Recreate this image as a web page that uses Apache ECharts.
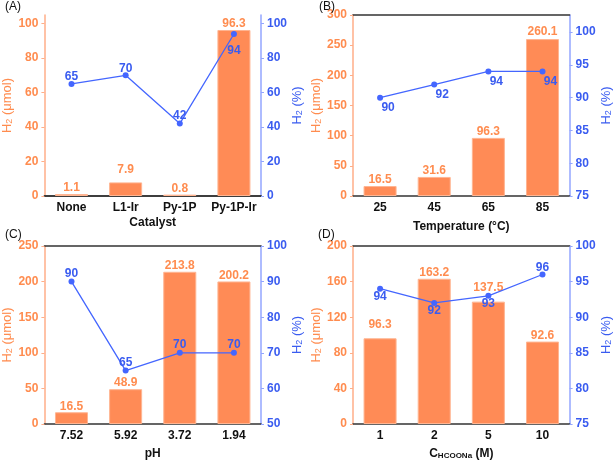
<!DOCTYPE html>
<html><head><meta charset="utf-8">
<script src="https://cdn.jsdelivr.net/npm/echarts@6/dist/echarts.min.js"></script>
<style>html,body{margin:0;padding:0;background:#fff}#c{width:614px;height:461px}</style>
</head><body><div id="c"></div>
<script>
// ---- data ----
const catA = ['None', 'L1-Ir', 'Py-1P', 'Py-1P-Ir'];
const barA = [1.1, 7.9, 0.8, 96.3];
const lineA = [65, 70, 42, 94];
const catB = ['25', '45', '65', '85'];
const barB = [16.5, 31.6, 96.3, 260.1];
const lineB = [90, 92, 94, 94];
const catC = ['7.52', '5.92', '3.72', '1.94'];
const barC = [16.5, 48.9, 213.8, 200.2];
const lineC = [90, 65, 70, 70];
const catD = ['1', '2', '5', '10'];
const barD = [96.3, 163.2, 137.5, 92.6];
const lineD = [94, 92, 93, 96];
// tick labels
const leftTicksA = [0, 20, 40, 60, 80, 100];
const rightTicksA = [0, 20, 40, 60, 80, 100];
const leftTicksB = [0, 50, 100, 150, 200, 250, 300];
const rightTicksB = [75, 80, 85, 90, 95, 100];
const leftTicksC = [0, 50, 100, 150, 200, 250];
const rightTicksC = [50, 60, 70, 80, 90, 100];
const leftTicksD = [0, 40, 80, 120, 160, 200];
const rightTicksD = [75, 80, 85, 90, 95, 100];

// ---- styles / layout (not data) ----
const offA = [[0, -7], [0, -7], [0, -8], [0, 17]];
const offB = [[8, 10], [8, 10], [8, 10], [8, 10]];
const offC = [[0, -8], [0, -8], [0, -8], [0, -8]];
const offD = [[0, 8], [0, 8], [0, 8], [0, -7]];
const barLblA = [0, -7, 0, 0];
const barLblB = [0, 0, 0, -1];
const barLblC = [0, 0, 0, 0];
const barLblD = [-8, 0, -8, 0];

const FONT = 'Liberation Sans, Arial, sans-serif';
const ORANGE = '#FF8C4F', ORANGE_AX = '#FFAE88', BAR = '#FF8B56', BAR_BORDER = '#FFB592';
const BLUE = '#4466FF', BLUE_TXT = '#3A5CF0', BLUE_AX = '#93A6FF';

const panels = [
  {cats: catA, bars: barA, line: lineA, off: offA, bl: barLblA, lt: leftTicksA, rt: rightTicksA, lmin: 0, lmax: 105, rmin: 0, rmax: 105,
   grid: {left: 38, top: 15, width: 223, height: 181}, xname: {t: 'Catalyst'}, xgap: 21, title: '(A)', tpos: [5, 1]},
  {cats: catB, bars: barB, line: lineB, off: offB, bl: barLblB, lt: leftTicksB, rt: rightTicksB, lmin: 0, lmax: 300, rmin: 75, rmax: 102.6,
   grid: {left: 353, top: 15, width: 222, height: 181}, xname: {t: 'Temperature (°C)'}, xgap: 25, title: '(B)', tpos: [319, 1]},
  {cats: catC, bars: barC, line: lineC, off: offC, bl: barLblC, lt: leftTicksC, rt: rightTicksC, lmin: 0, lmax: 250, rmin: 50, rmax: 100,
   grid: {left: 38, top: 246, width: 223, height: 180}, xname: {t: 'pH'}, xgap: 24, title: '(C)', tpos: [5, 229]},
  {cats: catD, bars: barD, line: lineD, off: offD, bl: barLblD, lt: leftTicksD, rt: rightTicksD, lmin: 0, lmax: 200, rmin: 75, rmax: 100,
   grid: {left: 353, top: 246, width: 222, height: 180}, xname: {rich: true}, xgap: 23, title: '(D)', tpos: [318, 229]}
];

const option = {animation: false, textStyle: {fontFamily: FONT}, grid: [], xAxis: [], yAxis: [], series: [], title: []};

panels.forEach((p, i) => {
  option.grid.push(p.grid);
  option.title.push({text: p.title, left: p.tpos[0], top: p.tpos[1], padding: 0,
    textStyle: {fontSize: 12, fontWeight: 'normal', color: '#111', fontFamily: FONT}});
  const xName = p.xname.rich ? '{b|C}{s|HCOONa}{b| (M)}' : p.xname.t;
  option.xAxis.push({
    type: 'category', gridIndex: i, data: p.cats, position: 'bottom',
    axisLine: {lineStyle: {color: '#333', width: 1.5}},
    axisTick: {alignWithLabel: true, length: 4, lineStyle: {color: '#333'}},
    axisLabel: {interval: 0, color: '#111', fontWeight: 'bold', fontSize: 12, margin: 6, fontFamily: FONT},
    name: xName, nameLocation: 'middle', nameGap: p.xgap,
    nameTextStyle: {color: '#111', fontWeight: 'bold', fontSize: 12, fontFamily: FONT,
      rich: {b: {fontWeight: 'bold', fontSize: 12, color: '#111', fontFamily: FONT},
             s: {fontWeight: 'bold', fontSize: 8, color: '#111', verticalAlign: 'bottom', padding: [5, 0, 0, 0], fontFamily: FONT}}}
  });
  option.xAxis.push({
    type: 'category', gridIndex: i, data: p.cats, position: 'top',
    axisLine: {lineStyle: {color: '#333', width: 1.5}},
    axisTick: {show: false}, axisLabel: {show: false}
  });
  const nameRich = (c) => ({
    a: {fontSize: 13, color: c, fontFamily: FONT},
    s: {fontSize: 9, color: c, verticalAlign: 'bottom', padding: [5, 0, 0, 0], fontFamily: FONT}
  });
  option.yAxis.push({
    type: 'value', gridIndex: i, position: 'left', min: p.lmin, max: p.lmax,
    splitLine: {show: false},
    axisLine: {show: true, lineStyle: {color: ORANGE_AX, width: 1.5}},
    axisTick: {show: true, length: 3, lineStyle: {color: ORANGE_AX}, customValues: p.lt},
    axisLabel: {color: ORANGE, fontWeight: 'bold', fontSize: 12, margin: 6, customValues: p.lt, fontFamily: FONT},
    name: '{a|H}{s|2}{a| (μmol)}', nameLocation: 'middle', nameGap: 24, nameRotate: 90,
    nameTextStyle: {rich: nameRich(ORANGE)}
  });
  option.yAxis.push({
    type: 'value', gridIndex: i, position: 'right', min: p.rmin, max: p.rmax,
    splitLine: {show: false},
    axisLine: {show: true, lineStyle: {color: BLUE_AX, width: 1.5}},
    axisTick: {show: true, length: 3, lineStyle: {color: BLUE_AX}, customValues: p.rt},
    axisLabel: {color: BLUE_TXT, fontWeight: 'bold', fontSize: 12, margin: 6, customValues: p.rt, fontFamily: FONT},
    name: '{a|H}{s|2}{a| (%)}', nameLocation: 'middle', nameGap: 24, nameRotate: 90,
    nameTextStyle: {rich: nameRich(BLUE_TXT)}
  });
  option.series.push({
    type: 'bar', xAxisIndex: 2 * i, yAxisIndex: 2 * i,
    data: p.bars.map((v, k) => ({value: v, label: {offset: [0, p.bl[k]]}})), barWidth: '61%',
    itemStyle: {color: BAR, borderColor: BAR_BORDER, borderWidth: 1},
    label: {show: true, position: 'top', distance: 0, color: ORANGE, fontSize: 12, fontWeight: 'bold', fontFamily: FONT},
    z: 2
  });
  option.series.push({
    type: 'line', xAxisIndex: 2 * i, yAxisIndex: 2 * i + 1,
    data: p.line.map((v, k) => ({value: v, label: {offset: p.off[k]}})),
    symbol: 'circle', symbolSize: 6, lineStyle: {color: BLUE, width: 1.3}, itemStyle: {color: BLUE},
    label: {show: true, position: 'inside', color: BLUE_TXT, fontSize: 12, fontWeight: 'bold', fontFamily: FONT},
    z: 5
  });
});

const chart = echarts.init(document.getElementById('c'), null, {renderer: 'canvas'});
chart.setOption(option);
</script></body></html>
